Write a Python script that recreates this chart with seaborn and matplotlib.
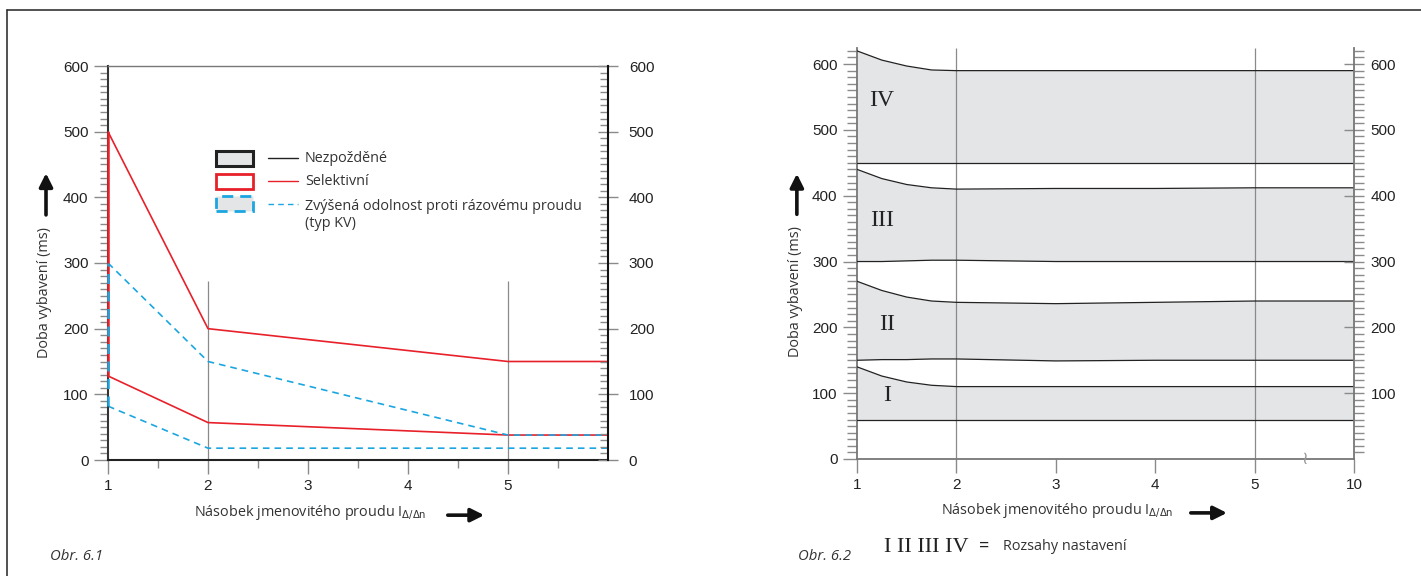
import matplotlib
matplotlib.use('Agg')
import matplotlib.pyplot as plt
import seaborn as sns
import pandas as pd
from matplotlib.patches import Rectangle
from matplotlib.lines import Line2D
from matplotlib.ticker import FixedLocator, MultipleLocator

# Obr. 6.1 - vybavovaci casy podle nasobku proudu
x61 = [1, 2, 5, 6]
sel_upper = [500, 200, 150, 150]
sel_lower = [128, 57, 38, 38]
kv_upper = [300, 150, 38, 38]
kv_lower = [82, 18, 18, 18]
grid61_x = [2, 5]
grid61_top = 272

legend_labels = ['Nezpožděné', 'Selektivní',
                 'Zvýšená odolnost proti rázovému proudu\n(typ KV)']

# Obr. 6.2 - rozsahy nastaveni (pozice 6 na ose = hodnota 10)
x62 = [1, 1.25, 1.5, 1.75, 2, 3, 4, 5, 6]
x62_ticks = [1, 2, 3, 4, 5, 6]
x62_labels = ['1', '2', '3', '4', '5', '10']
grid62_x = [2, 5]
r1_low = [60, 60, 60, 60, 60, 60, 60, 60, 60]
r1_up = [140, 126, 117, 112, 110, 110, 110, 110, 110]
r2_low = [150, 151, 151, 152, 152, 149, 150, 150, 150]
r2_up = [270, 256, 246, 240, 238, 236, 238, 240, 240]
r3_low = [300, 300, 301, 302, 302, 300, 300, 300, 300]
r3_up = [440, 426, 417, 412, 410, 411, 411, 412, 412]
r4_low = [450, 450, 450, 450, 450, 450, 450, 450, 450]
r4_up = [620, 606, 597, 591, 590, 590, 590, 590, 590]
ranges = [(r1_low, r1_up), (r2_low, r2_up), (r3_low, r3_up), (r4_low, r4_up)]
range_names = ['I', 'II', 'III', 'IV']
range_label_x = [1.3, 1.3, 1.25, 1.25]
range_label_y = [96, 205, 362, 545]

RED = '#e8202a'
BLUE = '#1ba6e0'
BAND = '#e4e5e7'
GRAY = '#8a8a8a'
FS = 10.4
text_font = ['Open Sans', 'DejaVu Sans']
serif_font = ['Liberation Serif', 'DejaVu Serif']

sns.set_style('white')
plt.rcParams['font.family'] = ['Liberation Sans Narrow', 'Liberation Sans', 'DejaVu Sans']

fig = plt.figure(figsize=(14.21, 5.76), dpi=100)
ax1 = fig.add_axes([108 / 1421, 1 - 460 / 576, 500 / 1421, 394 / 576])
ax2 = fig.add_axes([857 / 1421, 1 - 459 / 576, 497 / 1421, 411.4 / 576])

# ---------- Obr. 6.1 ----------
ax1.vlines(grid61_x, 0, grid61_top, color=GRAY, lw=0.9, zorder=1)
sns.lineplot(x=x61, y=sel_upper, ax=ax1, color=RED, lw=1.2, estimator=None, sort=False)
sns.lineplot(x=x61, y=sel_lower, ax=ax1, color=RED, lw=1.2, estimator=None, sort=False)
sns.lineplot(x=[x61[0], x61[0]], y=[sel_lower[0], sel_upper[0]], ax=ax1, color=RED, lw=1.8,
             estimator=None, sort=False, zorder=4)
sns.lineplot(x=x61, y=kv_upper, ax=ax1, color=BLUE, lw=1.2, estimator=None, sort=False,
             linestyle=(0, (4, 3)))
sns.lineplot(x=x61, y=kv_lower, ax=ax1, color=BLUE, lw=1.2, estimator=None, sort=False,
             linestyle=(0, (4, 3)))
sns.lineplot(x=[x61[0], x61[0]], y=[kv_lower[0], kv_upper[0]], ax=ax1, color=BLUE, lw=1.8,
             estimator=None, sort=False, linestyle=(0, (4, 3)), zorder=5)

ax1.set_xlim(1, 6)
ax1.set_ylim(0, 600)
ax1.xaxis.set_major_locator(FixedLocator([1, 2, 3, 4, 5]))
ax1.xaxis.set_minor_locator(FixedLocator([1.5, 2.5, 3.5, 4.5, 5.5]))
ax1.yaxis.set_major_locator(MultipleLocator(100))
ax1.yaxis.set_minor_locator(MultipleLocator(10))
ax1.tick_params(axis='both', which='major', direction='out', length=10, width=1,
                color=GRAY, labelsize=11, labelcolor='#222', pad=4)
ax1.tick_params(axis='both', which='minor', direction='out', length=6, width=1, color=GRAY)
ax1.tick_params(axis='y', left=True, which='both')
ax1.tick_params(axis='x', bottom=True, which='both')
ax1.spines['left'].set_color('#333')
ax1.spines['left'].set_linewidth(1.5)
ax1.spines['bottom'].set_color('#222')
ax1.spines['bottom'].set_linewidth(1.5)
ax1.spines['top'].set_color('#777')
ax1.spines['top'].set_linewidth(1)
ax1.spines['right'].set_visible(False)
for ln in ax1.lines:
    ln.set_clip_on(False)

ax1r = ax1.twinx()
ax1r.set_ylim(0, 600)
ax1r.yaxis.set_major_locator(MultipleLocator(100))
ax1r.yaxis.set_minor_locator(MultipleLocator(10))
ax1r.tick_params(axis='y', which='major', direction='inout', length=14, width=1, color=GRAY,
                 labelsize=11, labelcolor='#222', pad=8)
ax1r.tick_params(axis='y', which='minor', direction='in', length=6, width=1, color=GRAY)
for s in ['left', 'top', 'bottom']:
    ax1r.spines[s].set_visible(False)
ax1r.spines['right'].set_color('#111')
ax1r.spines['right'].set_linewidth(1.5)

# legenda
leg_y = [0.766, 0.708, 0.650]
patch_styles = [dict(fc=BAND, ec='#222', lw=2.2, ls='-'),
                dict(fc='white', ec=RED, lw=2.0, ls='-'),
                dict(fc=BAND, ec=BLUE, lw=2.0, ls=(0, (4, 2.5)))]
line_styles = [dict(color='#222', ls='-'), dict(color=RED, ls='-'), dict(color=BLUE, ls=(0, (4, 3)))]
for yy, ps, lsty, lab in zip(leg_y, patch_styles, line_styles, legend_labels):
    ax1.add_patch(Rectangle((0.216, yy - 0.019), 0.074, 0.038, transform=ax1.transAxes,
                            clip_on=False, **ps))
    ax1.add_artist(Line2D([0.32, 0.38], [yy, yy], transform=ax1.transAxes, lw=1, **lsty))
    multi = '\n' in lab
    ax1.text(0.394, yy + 0.012 if multi else yy - 0.002, lab, transform=ax1.transAxes,
             ha='left', va='top' if multi else 'center',
             fontsize=FS, color='#333', family=text_font, linespacing=1.2)

# popisky os
ax1.text(-0.126, 0.426, 'Doba vybavení (ms)', rotation=90, transform=ax1.transAxes,
         ha='center', va='center', fontsize=FS, color='#333', family=text_font)
ax1.annotate('', xy=(-0.124, 0.735), xytext=(-0.124, 0.615), xycoords='axes fraction',
             arrowprops=dict(arrowstyle='-|>', color='#111', lw=2.6, mutation_scale=20))
ax1.text(0.404, -0.133, r'Násobek jmenovitého proudu I$_{\Delta/\Delta\mathrm{n}}$',
         transform=ax1.transAxes, ha='center', va='center', fontsize=FS, color='#333',
         family=text_font)
ax1.annotate('', xy=(0.758, -0.140), xytext=(0.674, -0.140), xycoords='axes fraction',
             arrowprops=dict(arrowstyle='-|>', color='#111', lw=2.6, mutation_scale=20))

# ---------- Obr. 6.2 ----------
for low, up in ranges:
    ax2.fill_between(x62, low, up, color=BAND, lw=0, zorder=1)
ax2.vlines(grid62_x, 0, 625, color=GRAY, lw=0.9, zorder=2)
for low, up in ranges:
    sns.lineplot(x=x62, y=low, ax=ax2, color='#222', lw=0.9, estimator=None, sort=False, zorder=3)
    sns.lineplot(x=x62, y=up, ax=ax2, color='#222', lw=0.9, estimator=None, sort=False, zorder=3)
for name, lx, ly in zip(range_names, range_label_x, range_label_y):
    ax2.text(lx, ly, name, ha='center', va='center', fontsize=17, color='#222', family=serif_font)

ax2.set_xlim(1, 6)
ax2.set_ylim(0, 625)
ax2.set_xticks(x62_ticks)
ax2.set_xticklabels(x62_labels)
ax2.yaxis.set_major_locator(FixedLocator([0, 100, 200, 300, 400, 500, 600]))
ax2.yaxis.set_minor_locator(FixedLocator(list(range(10, 630, 10))))
ax2.tick_params(axis='both', which='major', direction='out', length=10, width=1, color=GRAY,
                labelsize=11, labelcolor='#222', pad=4)
ax2.tick_params(axis='y', which='minor', direction='out', length=7, width=1, color=GRAY)
ax2.tick_params(axis='y', left=True, which='both')
ax2.tick_params(axis='x', bottom=True, which='major')
ax2.spines['top'].set_visible(False)
ax2.spines['right'].set_visible(False)
for s in ['left', 'bottom']:
    ax2.spines[s].set_color('#777')
    ax2.spines[s].set_linewidth(1.3)

ax2r = ax2.twinx()
ax2r.set_ylim(0, 625)
ax2r.yaxis.set_major_locator(FixedLocator([100, 200, 300, 400, 500, 600]))
ax2r.yaxis.set_minor_locator(FixedLocator(list(range(10, 630, 10))))
ax2r.tick_params(axis='y', which='major', direction='inout', length=14, width=1, color=GRAY,
                 labelsize=11, labelcolor='#222', pad=5)
ax2r.tick_params(axis='y', which='minor', direction='out', length=7, width=1, color=GRAY)
for s in ['left', 'top', 'bottom']:
    ax2r.spines[s].set_visible(False)
ax2r.spines['right'].set_color('#777')
ax2r.spines['right'].set_linewidth(1.3)

# preruseni osy
ax2.text(5.5, 0, '≀', ha='center', va='center', fontsize=13, color='#999', family=['DejaVu Sans'])

ax2.text(-0.123, 0.406, 'Doba vybavení (ms)', rotation=90, transform=ax2.transAxes,
         ha='center', va='center', fontsize=FS, color='#333', family=text_font)
ax2.annotate('', xy=(-0.121, 0.70), xytext=(-0.121, 0.588), xycoords='axes fraction',
             arrowprops=dict(arrowstyle='-|>', color='#111', lw=2.6, mutation_scale=20))
ax2.text(0.402, -0.124, r'Násobek jmenovitého proudu I$_{\Delta/\Delta\mathrm{n}}$',
         transform=ax2.transAxes, ha='center', va='center', fontsize=FS, color='#333',
         family=text_font)
ax2.annotate('', xy=(0.750, -0.131), xytext=(0.666, -0.131), xycoords='axes fraction',
             arrowprops=dict(arrowstyle='-|>', color='#111', lw=2.6, mutation_scale=20))

# texty pod grafy
fig.text(884 / 1421, 1 - 548 / 576, ' '.join(range_names), ha='left', va='center', fontsize=16,
         color='#222', family=serif_font)
fig.text(979 / 1421, 1 - 546 / 576, '=', ha='left', va='center', fontsize=13, color='#222',
         family=text_font)
fig.text(1003 / 1421, 1 - 546 / 576, 'Rozsahy nastavení', ha='left', va='center', fontsize=FS,
         color='#333', family=text_font)
fig.text(50 / 1421, 1 - 557 / 576, 'Obr. 6.1', ha='left', va='center', fontsize=10.7,
         color='#333', style='italic', family=text_font)
fig.text(798 / 1421, 1 - 557 / 576, 'Obr. 6.2', ha='left', va='center', fontsize=10.7,
         color='#333', style='italic', family=text_font)

# ramecek stranky
fig.add_artist(Line2D([7 / 1421, 1], [1 - 10 / 576, 1 - 10 / 576], transform=fig.transFigure,
                      color='#333', lw=1.2))
fig.add_artist(Line2D([7 / 1421, 7 / 1421], [0, 1 - 10 / 576], transform=fig.transFigure,
                      color='#333', lw=1.2))

fig.savefig('out.png', dpi=100)
